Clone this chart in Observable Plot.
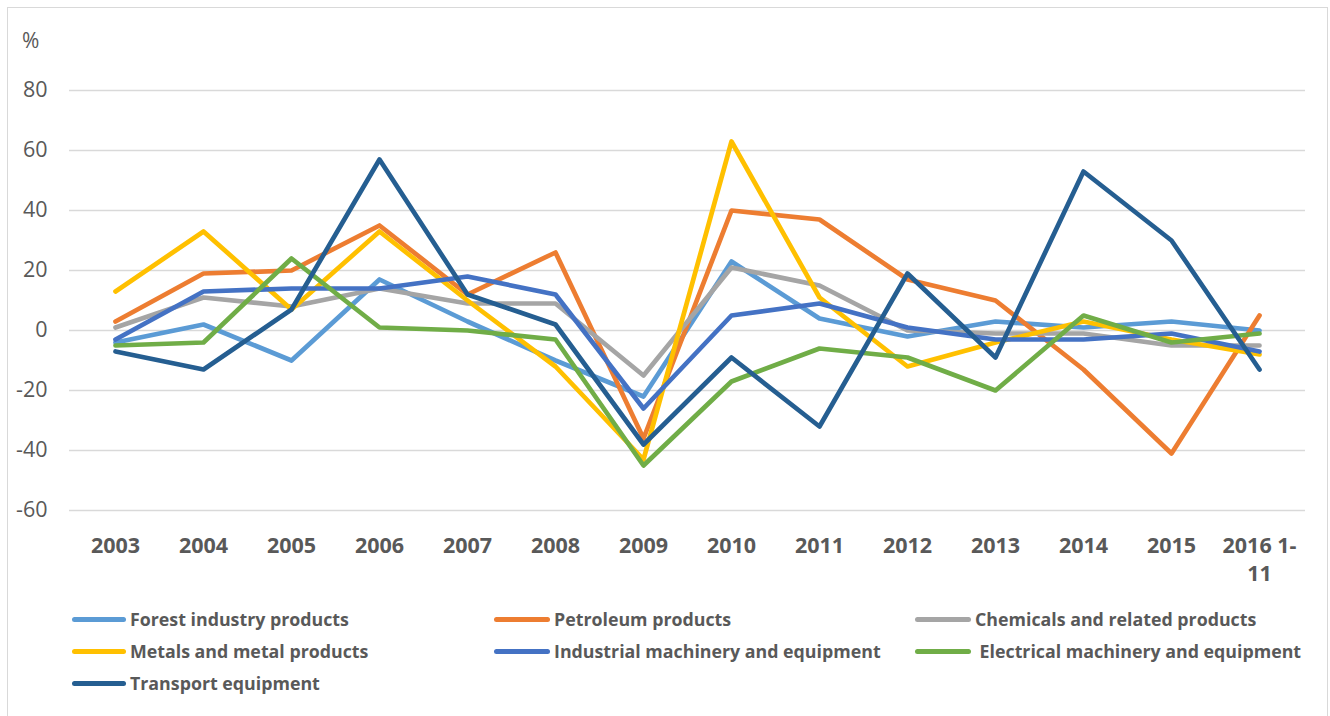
<!DOCTYPE html>
<html>
<head>
<meta charset="utf-8">
<script src="https://cdn.jsdelivr.net/npm/d3@7"></script>
<script src="https://cdn.jsdelivr.net/npm/@observablehq/plot@0.6"></script>
<style>
  html, body { margin: 0; padding: 0; background: #fff; }
  body { width: 1330px; height: 716px; position: relative; overflow: hidden; font-family: "Open Sans", sans-serif; }
  #frame { position: absolute; left: 7px; top: 7px; width: 1321px; height: 720px; border: 1.5px solid #d9d9d9; box-sizing: border-box; }
  #chart { position: absolute; left: 0; top: 0; }
  #unit { position: absolute; left: 22px; top: 26px; font-size: 21px; color: #595959; }
  .leg { position: absolute; display: flex; align-items: center; font-size: 17.8px; font-weight: bold; color: #595959; white-space: nowrap; }
  .leg .sw { display: inline-block; height: 5px; border-radius: 3px; margin-right: 4px; }
</style>
</head>
<body>
<div id="frame"></div>
<div id="chart"></div>
<div id="unit">%</div>
<div id="legend"></div>
<script>
const categories = ["2003","2004","2005","2006","2007","2008","2009","2010","2011","2012","2013","2014","2015","2016 1-11"];
const seriesNames = [
  "Forest industry products",
  "Petroleum products",
  "Chemicals and related products",
  "Metals and metal products",
  "Industrial machinery and equipment",
  "Electrical machinery and equipment",
  "Transport equipment"
];
const seriesColors = ["#5B9BD5","#ED7D31","#A5A5A5","#FFC000","#4472C4","#70AD47","#255E91"];
const forest     = [-4, 2, -10, 17, 3, -10, -22, 23, 4, -2, 3, 1, 3, 0];
const petroleum  = [3, 19, 20, 35, 12, 26, -36, 40, 37, 17, 10, -13, -41, 5];
const chemicals  = [1, 11, 8, 14, 9, 9, -15, 21, 15, 0, -1, -1, -5, -5];
const metals     = [13, 33, 7, 33, 10, -12, -43, 63, 11, -12, -4, 3, -3, -8];
const industrial = [-3, 13, 14, 14, 18, 12, -26, 5, 9, 1, -3, -3, -1, -7];
const electrical = [-5, -4, 24, 1, 0, -3, -45, -17, -6, -9, -20, 5, -4, -1];
const transport  = [-7, -13, 7, 57, 12, 2, -38, -9, -32, 19, -9, 53, 30, -13];
const yTicks = [-60, -40, -20, 0, 20, 40, 60, 80];

const seriesValues = [forest, petroleum, chemicals, metals, industrial, electrical, transport];

const lineMarks = seriesValues.map((vals, i) => {
  const data = categories.map((c, j) => ({cat: c, value: vals[j], series: seriesNames[i]}));
  return Plot.line(data, {x: "cat", y: "value", stroke: seriesColors[i], strokeWidth: 4.7, strokeLinejoin: "round", strokeLinecap: "round"});
});

const chart = Plot.plot({
  width: 1330,
  height: 600,
  marginLeft: 69,
  marginRight: 25,
  marginTop: 90,
  marginBottom: 90,
  style: {fontFamily: "Open Sans, sans-serif", color: "#595959", background: "transparent"},
  x: {type: "point", domain: categories, padding: 0.5},
  y: {domain: [-60, 80]},
  marks: [
    Plot.gridY(yTicks, {stroke: "#d9d9d9", strokeOpacity: 1, strokeWidth: 1.5}),
    Plot.axisY(yTicks, {tickSize: 0, tickPadding: 22, fontSize: 21.5, fill: "#595959", label: null,
      tickFormat: d => String(d)}),
    Plot.axisX({tickSize: 0, tickPadding: 23, fontSize: 21.5, fontWeight: "bold", fill: "#595959", lineHeight: 1.3,
      tickFormat: d => d.replace("1-11", "1-\n11"), label: null}),
    ...lineMarks
  ]
});
document.getElementById("chart").appendChild(chart);

// legend
const legPos = [
  {x: 72, y: 619, w: 54}, {x: 494, y: 619, w: 56}, {x: 915, y: 619, w: 56},
  {x: 72, y: 651, w: 54}, {x: 494, y: 651, w: 56}, {x: 915, y: 651, w: 56},
  {x: 72, y: 683, w: 54}
];
const legend = document.getElementById("legend");
seriesNames.forEach((name, i) => {
  const p = legPos[i];
  const d = document.createElement("div");
  d.className = "leg";
  d.style.left = p.x + "px";
  d.style.top = (p.y - 12) + "px";
  d.style.height = "24px";
  const sw = document.createElement("span");
  sw.className = "sw";
  sw.style.width = p.w + "px";
  sw.style.background = seriesColors[i];
  d.appendChild(sw);
  const t = document.createElement("span");
  t.textContent = (name.startsWith("Electrical") ? "\u00a0" : "") + name;
  d.appendChild(t);
  legend.appendChild(d);
});
</script>
</body>
</html>
